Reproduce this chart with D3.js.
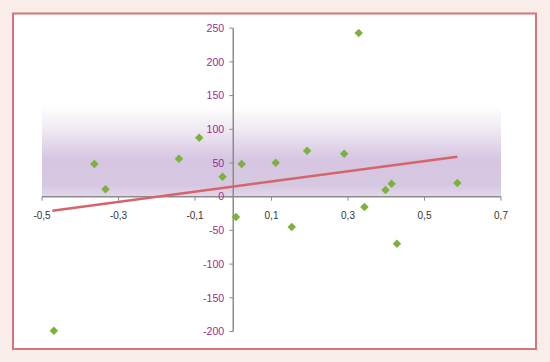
<!DOCTYPE html>
<html>
<head>
<meta charset="utf-8">
<script src="https://cdn.jsdelivr.net/npm/d3@7"></script>
<style>
	body { margin: 0; background: #f9edea; }
	svg { display: block; }
	text { font-family: "Liberation Sans", Arial, sans-serif; font-size: 10px; }
	.yLabel { font-size: 10.6px; }
</style>
</head>
<body>
<div id="chart"></div>
<script>
// scatter points (x, y)
const pointX = [-0.469, -0.363, -0.334, -0.142, -0.089, -0.028, 0.007, 0.022, 0.111, 0.153, 0.193, 0.29, 0.328, 0.343, 0.398, 0.414, 0.428, 0.586];
const pointY = [-199, 48.5, 11, 56.4, 87.5, 29.7, -30, 48.5, 50.4, -45, 68.2, 63.8, 243, -15.3, 9.9, 19.3, -69.7, 20.3];

// trend line end points
const trendX = [-0.473, 0.586];
const trendY = [-20.8, 59.3];

const xTicks = [-0.5, -0.3, -0.1, 0.1, 0.3, 0.5, 0.7];
const yTicks = [-200, -150, -100, -50, 0, 50, 100, 150, 200, 250];
const bandTop = 136;

const width = 550;
const height = 362;

const svg = d3.select("#chart")
	.append("svg")
	.attr("width", width)
	.attr("height", height);

// white panel with border
svg.append("rect")
	.attr("x", 13).attr("y", 13.5)
	.attr("width", 523).attr("height", 335.5)
	.attr("fill", "#ffffff")
	.attr("stroke", "#d6757b")
	.attr("stroke-width", 2);

const xScale = d3.scaleLinear().domain([-0.5, 0.7]).range([42, 501]);
const yScale = d3.scaleLinear().domain([-200, 250]).range([331.5, 28.2]);

// purple band
const grad = svg.append("defs").append("linearGradient")
	.attr("id", "band")
	.attr("x1", 0).attr("y1", 0).attr("x2", 0).attr("y2", 1);
grad.append("stop").attr("offset", "0%").attr("stop-color", "#ffffff");
grad.append("stop").attr("offset", "25%").attr("stop-color", "#f1ebf4");
grad.append("stop").attr("offset", "60%").attr("stop-color", "#d5c5e1");
grad.append("stop").attr("offset", "88%").attr("stop-color", "#d7c8e2");
grad.append("stop").attr("offset", "100%").attr("stop-color", "#e2d7ea");

svg.append("rect")
	.attr("x", xScale(-0.5))
	.attr("y", yScale(bandTop))
	.attr("width", xScale(0.7) - xScale(-0.5))
	.attr("height", yScale(0) - yScale(bandTop))
	.attr("fill", "url(#band)");

// x axis
const xAxis = svg.append("g").attr("transform", `translate(0, ${yScale(0)})`);
xAxis.append("line")
	.attr("x1", xScale(-0.5)).attr("x2", xScale(0.7))
	.attr("stroke", "#8c8c8c").attr("stroke-width", 1.5);
xAxis.selectAll(".tick")
	.data(xTicks)
	.enter()
	.append("line")
	.attr("x1", (d) => xScale(d)).attr("x2", (d) => xScale(d))
	.attr("y1", 0).attr("y2", 4)
	.attr("stroke", "#8c8c8c").attr("stroke-width", 1);
xAxis.selectAll("text")
	.data(xTicks)
	.enter()
	.append("text")
	.attr("x", (d) => xScale(d))
	.attr("y", 22)
	.attr("text-anchor", "middle")
	.attr("fill", "#333333")
	.text((d) => d3.format(".1f")(d).replace(".", ",").replace("−", "-"));

// y axis
const yAxis = svg.append("g").attr("transform", `translate(${xScale(0)}, 0)`);
yAxis.append("line")
	.attr("y1", yScale(250)).attr("y2", yScale(-200))
	.attr("stroke", "#8c8c8c").attr("stroke-width", 1.5);
yAxis.selectAll(".tick")
	.data(yTicks)
	.enter()
	.append("line")
	.attr("x1", -4).attr("x2", 0)
	.attr("y1", (d) => yScale(d)).attr("y2", (d) => yScale(d))
	.attr("stroke", "#8c8c8c").attr("stroke-width", 1);
yAxis.selectAll("text")
	.data(yTicks)
	.enter()
	.append("text")
	.attr("class", "yLabel")
	.attr("x", -9)
	.attr("y", (d) => yScale(d))
	.attr("dy", "0.35em")
	.attr("text-anchor", "end")
	.attr("fill", "#9b2d8f")
	.text((d) => String(d));

// trend line
svg.append("path")
	.datum(trendX.map((x, i) => [x, trendY[i]]))
	.attr("fill", "none")
	.attr("stroke", "#d5656c")
	.attr("stroke-width", 2.5)
	.attr("d", d3.line().x((d) => xScale(d[0])).y((d) => yScale(d[1])));

// diamonds
const diamond = d3.symbol().type(d3.symbolSquare).size(36);
svg.selectAll(".pt")
	.data(pointX.map((x, i) => [x, pointY[i]]))
	.enter()
	.append("path")
	.attr("d", diamond)
	.attr("transform", (d) => `translate(${xScale(d[0])}, ${yScale(d[1])}) rotate(45)`)
	.attr("fill", "#7cb23b");
</script>
</body>
</html>
